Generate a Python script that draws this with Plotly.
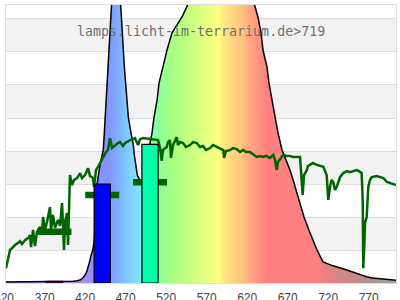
import plotly.graph_objects as go

# ---- data (wavelength in nm, relative intensity) ----
spec_nm = [322, 335, 350, 365, 380, 395, 405, 410, 413.6, 417, 419.8, 422, 423.8, 425.5, 426.8, 429.3,
           431.2, 433, 434.6, 438.3, 442.3, 443.6, 445.7, 447.3, 449.4, 451.9, 455, 457.5, 460, 463.0,
           465.8, 468.3, 471.2, 473.2, 476.5, 479.4, 480.6, 482.7, 484.3, 487.7, 489.8, 493, 496, 498,
           500.0, 502.5, 505.0, 508.8, 511.1, 516.0, 521.0, 527.2, 539.5, 549.4, 560, 575, 590, 605, 617,
           627.2, 633.3, 637.0, 639.5, 644.4, 646.9, 650.6, 654.3, 658.0, 663.0, 667.9, 672.9, 677.8,
           684.0, 690.1, 697.5, 706.2, 713.6, 725.9, 738.3, 746.9, 755.5, 767.5, 775, 792, 804]
spec_val = [0.03, 0.03, 0.04, 0.03, 0.04, 0.04, 0.05, 0.07, 0.09, 0.15, 0.24, 0.35, 0.49, 0.65, 0.80, 1.0,
            1.3, 2.1, 3.0, 3.58, 4.03, 4.55, 5.55, 6.55, 7.58, 8.58, 10.0, 10.6, 10.0, 8.58,
            7.58, 6.55, 5.55, 5.03, 4.55, 4.18, 3.88, 3.58, 3.27, 3.09, 3.03, 2.9, 3.2, 3.8,
            4.24, 4.55, 5.03, 5.55, 6.06, 6.55, 7.06, 7.58, 8.06, 8.58, 9.2, 9.8, 10.1, 9.9, 9.3,
            8.58, 8.06, 7.58, 7.06, 6.55, 6.06, 5.55, 5.03, 4.55, 4.03, 3.73, 3.42, 3.03,
            2.52, 2.00, 1.52, 1.00, 0.64, 0.52, 0.43, 0.36, 0.28, 0.19, 0.15, 0.10, 0.08]

ref_nm = [322.2, 327.2, 330.9, 333.3, 337.0, 339.5, 342.0, 345.7, 349.4, 351.9, 353.1, 355.6, 358.0, 360.5,
          364.2, 366.7, 367.9, 370.4, 372.8, 376.5, 377.8, 380.2, 382.7, 386.4, 388.9, 391.4, 393.8, 395.1,
          397.5, 398.8, 401.2, 403.7, 406.2, 409.9, 413.6, 416.0, 419.8, 423.5, 425.9, 429.6, 430.9, 433.3,
          435.8, 438.3, 440.7, 443.2, 445.7, 448.1, 450.6, 453.1, 456.8, 460.5, 463.0, 466.7, 469.1, 472.8,
          475.3, 479.0, 481.5, 485.2, 487.7, 491.4, 500.0, 506.2, 509.9, 512.4, 514.4, 516.0, 520.6, 522.2,
          524.7, 525.9, 528.4, 533.0, 534.6, 537.0, 540.7, 544.4, 549.4, 553.1, 557.7, 561.7, 565.4, 569.1,
          574.1, 577.8, 582.3, 586.4, 590.5, 591.4, 593.8, 598.8, 602.5, 607.0, 611.1, 615.2, 618.5, 623.5,
          627.2, 631.7, 635.8, 639.9, 643.2, 648.1, 652.2, 654.3, 656.4, 658.0, 662.6, 664.6, 668.8, 672.8,
          676.5, 680.3, 685.2, 688.5, 690.1, 693.5, 695.1, 697.5, 701.2, 705.8, 709.9, 714.0, 718.1, 720.1,
          722.2, 724.1, 726.3, 728.4, 730.5, 734.6, 738.6, 743.2, 746.9, 750.6, 755.2, 758.0, 761.3, 762.6,
          763.3, 764.8, 765.4, 767.5, 769.5, 771.6, 773.7, 779.9, 784.0, 788.1, 792.6, 796.3, 800.0, 803.7]
ref_val = [0.45, 1.00, 1.09, 1.15, 1.21, 1.27, 1.18, 1.30, 1.36, 1.45, 1.09, 1.61, 1.12, 1.55,
           1.70, 1.52, 2.00, 1.61, 1.85, 2.30, 1.61, 2.06, 1.67, 1.91, 1.73, 2.42, 1.00, 1.85,
           2.12, 1.15, 3.27, 2.97, 3.12, 3.18, 3.33, 3.18, 3.27, 3.48, 3.24, 3.18, 2.91, 3.42,
           3.52, 3.64, 3.73, 3.88, 3.97, 4.03, 4.39, 4.09, 4.18, 4.24, 4.27, 4.15, 4.24, 4.30,
           4.33, 4.36, 4.39, 4.18, 4.36, 4.39, 4.36, 4.33, 4.33, 4.09, 3.70, 4.03, 4.12, 4.27,
           4.33, 3.79, 4.18, 4.42, 4.18, 4.27, 4.24, 4.12, 4.18, 4.27, 4.24, 4.12, 4.15, 4.03,
           4.09, 4.18, 4.12, 4.06, 4.03, 3.79, 4.00, 4.03, 4.09, 4.06, 3.97, 4.03, 3.97, 3.97,
           3.91, 3.82, 3.85, 3.82, 3.85, 3.79, 3.88, 3.73, 3.42, 3.67, 3.82, 3.88, 3.85, 3.85,
           3.82, 3.82, 3.82, 2.67, 3.27, 3.42, 3.55, 3.58, 3.64, 3.58, 3.55, 3.52, 3.27, 2.52,
           2.91, 3.12, 3.06, 2.82, 2.91, 3.21, 3.33, 3.39, 3.36, 3.39, 3.42, 3.39, 3.33, 2.52,
           0.45, 1.30, 1.82, 2.00, 2.91, 3.12, 3.21, 3.24, 3.21, 3.18, 3.06, 3.03, 3.00, 2.97]

band_center = [382, 441, 500]
band_value = [0.05, 3.0, 4.2]
band_ref = [1.55, 2.67, 3.05]
band_colors = ["#800080", "#0000ff", "#00ffa8"]
band_width = 20
ref_width = 42

tick_vals = [370, 420, 470, 520, 570, 620, 670, 720, 770]
tick_text = ["370", "420", "470", "520", "570", "620", "670", "720", "770"]
first_tick = 320  # partly cut off at the left edge, as in the original

# spectral colour stops for the fill (nm, colour)
grad_nm = [380, 420, 435, 450, 462, 471, 482, 490, 500, 510, 522, 540, 560, 575, 584, 595, 606, 612,
           623, 636, 645, 705, 718, 740, 760, 776, 790, 800]
grad_col = ["#b080f8", "#a88cf8", "#8c8cff", "#8098ff", "#80b0ff", "#80c8ff", "#80dcff", "#80ecff",
            "#80ffc0", "#8cff9c", "#a0ff88", "#b8ff80", "#d8ff80", "#f0ff80", "#ffff80", "#ffe080",
            "#ffd080", "#ffc880", "#ffa880", "#ff9080", "#ff8080", "#ff8080", "#e88282", "#d08686",
            "#c08a8a", "#b09090", "#a0a0a0", "#a0a0a0"]

X_RANGE = [322.2, 803.7]
X0, X1 = 320, 800
colorscale = [[(n - X0) / (X1 - X0), c] for n, c in zip(grad_nm, grad_col)]
colorscale = [[0, grad_col[0]]] + colorscale

fig = go.Figure()

fig.add_trace(go.Scatter(
    x=spec_nm, y=spec_val, mode="lines", fill="tozeroy",
    fillgradient=dict(type="horizontal", colorscale=colorscale, start=X0, stop=X1),
    line=dict(color="black", width=1.5), hoverinfo="skip"))

fig.add_trace(go.Scatter(
    x=ref_nm, y=ref_val, mode="lines",
    line=dict(color="#006400", width=2.5), hoverinfo="skip"))

# reference averages per band (thick horizontal marks)
mx, my = [], []
for c, v in zip(band_center, band_ref):
    mx += [c - ref_width / 2, c + ref_width / 2, None]
    my += [v, v, None]
fig.add_trace(go.Scatter(x=mx, y=my, mode="lines",
                         line=dict(color="#006400", width=6.5), hoverinfo="skip"))

# band bars (drawn as filled rectangles so they sit on top)
for c, v, col in zip(band_center, band_value, band_colors):
    l, r = c - band_width / 2, c + band_width / 2
    fig.add_trace(go.Scatter(x=[l, l, r, r, l], y=[0, v, v, 0, 0], mode="lines",
                             fill="toself", fillcolor=col,
                             line=dict(color="black", width=1.2), hoverinfo="skip"))

shapes = []
for y0 in [1, 3, 5, 7]:
    shapes.append(dict(type="rect", xref="paper", x0=0, x1=1, yref="y", y0=y0, y1=y0 + 1,
                       fillcolor="#f2f2f2", line=dict(width=0), layer="below"))

tick_font = dict(family="Liberation Sans", size=12, color="#444444")
first_tick_paper = (first_tick - X_RANGE[0]) / (X_RANGE[1] - X_RANGE[0])

fig.update_layout(
    width=400, height=300, margin=dict(l=6, r=4, t=5, b=17),
    paper_bgcolor="white", plot_bgcolor="white", showlegend=False,
    shapes=shapes,
    annotations=[
        dict(text="lamps.licht-im-terrarium.de>719", xref="paper", yref="paper", x=0.5, y=0.906,
             showarrow=False, xanchor="center", yanchor="middle",
             font=dict(family="DejaVu Sans Mono", size=13.3, color="#707070")),
        dict(text=str(first_tick), xref="paper", yref="paper", x=first_tick_paper, y=0,
             yanchor="top", xanchor="center", showarrow=False, yshift=-6, font=tick_font),
    ],
)
fig.update_xaxes(range=X_RANGE, tickvals=tick_vals, ticktext=tick_text, showgrid=False,
                 zeroline=False, showline=True, mirror=True, linecolor="#dddddd", linewidth=1,
                 ticks="", ticklabelstandoff=4, tickfont=tick_font, automargin=False)
fig.update_yaxes(range=[0, 8.424], dtick=1, showticklabels=False, showgrid=True,
                 gridcolor="#dddddd", gridwidth=1, zeroline=False, showline=True, mirror=True,
                 linecolor="#dddddd", linewidth=1, ticks="", automargin=False)

fig.write_html("out.html")
